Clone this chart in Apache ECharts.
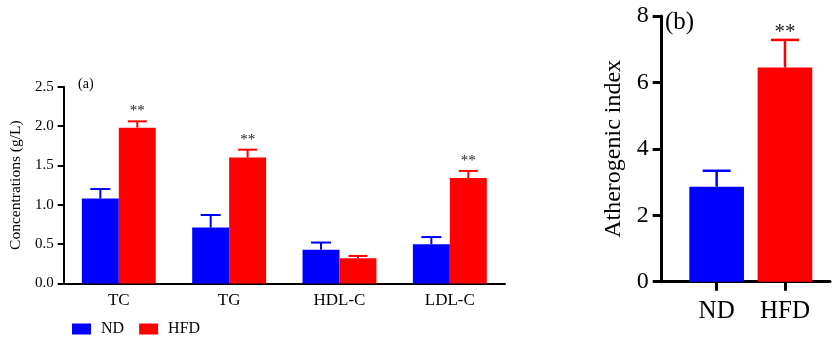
<!DOCTYPE html>
<html><head><meta charset="utf-8">
<script src="https://cdn.jsdelivr.net/npm/echarts@6/dist/echarts.min.js"></script>
<style>html,body{margin:0;padding:0;background:#fff}#c{width:833px;height:338px}</style>
</head><body><div id="c"></div>
<script>
// Panel (a)
const categoriesA = ['TC', 'TG', 'HDL-C', 'LDL-C'];
const ndMeanA = [1.08, 0.71, 0.43, 0.50];
const ndSdA = [0.12, 0.16, 0.09, 0.09];
const hfdMeanA = [1.98, 1.60, 0.32, 1.34];
const hfdSdA = [0.08, 0.10, 0.03, 0.09];
const sigA = ['**', '**', '', '**'];
// Panel (b)
const categoriesB = ['ND', 'HFD'];
const meanB = [2.86, 6.45];
const sdB = [0.48, 0.83];
const sigB = ['', '**'];

const FONT = "'Liberation Serif','Times New Roman',serif";
const BLUE = '#0000FF', RED = '#FF0000';
const gapA = 0.33, gapB = 0.20;

function errRender(side, gap, capW, lw, color, sigs, sigFont, sigOff) {
  return function (params, api) {
    const i = api.value(0), v = api.value(1), sd = api.value(2);
    const band = api.size([1, 0])[0];
    const barW = side === 0 ? band * (1 - gap) : band * (1 - gap) / 2;
    const off = side === 0 ? 0 : side * barW / 2;
    const p0 = api.coord([i, v]);
    const p1 = api.coord([i, v + sd]);
    const x = p0[0] + off;
    const children = [
      {type: 'line', shape: {x1: x, y1: p0[1], x2: x, y2: p1[1]}, style: {stroke: color, lineWidth: lw}},
      {type: 'line', shape: {x1: x - capW / 2, y1: p1[1], x2: x + capW / 2, y2: p1[1]}, style: {stroke: color, lineWidth: lw}}
    ];
    if (sigs && sigs[i]) {
      children.push({type: 'text', x: x, y: p1[1] - sigOff,
        style: {text: sigs[i], font: sigFont + 'px ' + FONT, fill: '#222', align: 'center', verticalAlign: 'middle'}});
    }
    return {type: 'group', children: children};
  };
}

const chart = echarts.init(document.getElementById('c'));
chart.setOption({
  animation: false,
  textStyle: {fontFamily: FONT},
  grid: [
    {left: 63.5, right: 328, top: 86.7, bottom: 54.5},
    {left: 661.7, right: 3, top: 16, bottom: 56.3},
    {left: 682.5, width: 136.6, top: 16, bottom: 56.3}
  ],
  legend: {
    left: 67, top: 316, itemWidth: 19, itemHeight: 11, itemGap: 15,
    icon: 'rect',
    textStyle: {fontFamily: FONT, fontSize: 16, color: '#000', padding: [0, 0, 0, 5]},
    data: ['ND', 'HFD']
  },
  xAxis: [
    {gridIndex: 0, type: 'category', data: categoriesA,
      axisLine: {lineStyle: {color: '#000', width: 2}},
      axisTick: {alignWithLabel: true, length: 6, lineStyle: {color: '#000', width: 2}},
      axisLabel: {fontFamily: FONT, fontSize: 17, color: '#000', margin: 9}},
    {gridIndex: 1, type: 'value', min: 0, max: 1, show: true,
      axisLine: {show: true, onZero: false, lineStyle: {color: '#000', width: 3}},
      axisTick: {show: false}, axisLabel: {show: false}, splitLine: {show: false}},
    {gridIndex: 2, type: 'category', data: categoriesB,
      axisLine: {show: false},
      axisTick: {show: true, alignWithLabel: true, length: 9, lineStyle: {color: '#000', width: 3}},
      axisLabel: {fontFamily: FONT, fontSize: 25, color: '#000', margin: 17}}
  ],
  yAxis: [
    {gridIndex: 0, type: 'value', min: 0, max: 2.5, interval: 0.5,
      name: 'Concentrations (g/L)', nameLocation: 'middle', nameGap: 33,
      nameTextStyle: {fontFamily: FONT, fontSize: 15.5, color: '#000'},
      axisLine: {show: true, lineStyle: {color: '#000', width: 2}},
      axisTick: {show: true, length: 6, lineStyle: {color: '#000', width: 2}},
      axisLabel: {fontFamily: FONT, fontSize: 15, color: '#000', margin: 10, formatter: v => v.toFixed(1)},
      splitLine: {show: false}},
    {gridIndex: 1, type: 'value', min: 0, max: 8, interval: 2,
      name: 'Atherogenic index', nameLocation: 'middle', nameGap: 36,
      nameTextStyle: {fontFamily: FONT, fontSize: 24, color: '#000'},
      axisLine: {show: true, lineStyle: {color: '#000', width: 3}},
      axisTick: {show: true, length: 9, lineStyle: {color: '#000', width: 3}},
      axisLabel: {fontFamily: FONT, fontSize: 24, color: '#000', margin: 13},
      splitLine: {show: false}},
    {gridIndex: 2, type: 'value', min: 0, max: 8, show: false}
  ],
  graphic: [
    {type: 'text', left: 78, top: 77, style: {text: '(a)', font: '14px ' + FONT, fill: '#000'}},
    {type: 'text', left: 665, top: 10, style: {text: '(b)', font: '25px ' + FONT, fill: '#000'}}
  ],
  series: [
    {name: 'ND', type: 'bar', xAxisIndex: 0, yAxisIndex: 0, data: ndMeanA, itemStyle: {color: BLUE},
      barGap: '0%', barCategoryGap: (gapA * 100) + '%'},
    {name: 'HFD', type: 'bar', xAxisIndex: 0, yAxisIndex: 0, data: hfdMeanA, itemStyle: {color: RED},
      barGap: '0%', barCategoryGap: (gapA * 100) + '%'},
    {type: 'custom', xAxisIndex: 0, yAxisIndex: 0, z: 3,
      data: ndMeanA.map((v, i) => [i, v, ndSdA[i]]),
      renderItem: errRender(-1, gapA, 20, 2, BLUE, null)},
    {type: 'custom', xAxisIndex: 0, yAxisIndex: 0, z: 3,
      data: hfdMeanA.map((v, i) => [i, v, hfdSdA[i]]),
      renderItem: errRender(1, gapA, 19, 2, RED, sigA, 15, 10)},
    {type: 'bar', xAxisIndex: 2, yAxisIndex: 2, barCategoryGap: (gapB * 100) + '%',
      data: meanB.map((v, i) => ({value: v, itemStyle: {color: i === 0 ? BLUE : RED}}))},
    {type: 'custom', xAxisIndex: 2, yAxisIndex: 2, z: 3,
      data: meanB.map((v, i) => [i, v, sdB[i]]),
      renderItem: function (params, api) {
        const i = api.value(0);
        return errRender(0, gapB, 28, 2.5, i === 0 ? BLUE : RED, sigB, 21, 7)(params, api);
      }}
  ]
});
</script>
</body></html>
